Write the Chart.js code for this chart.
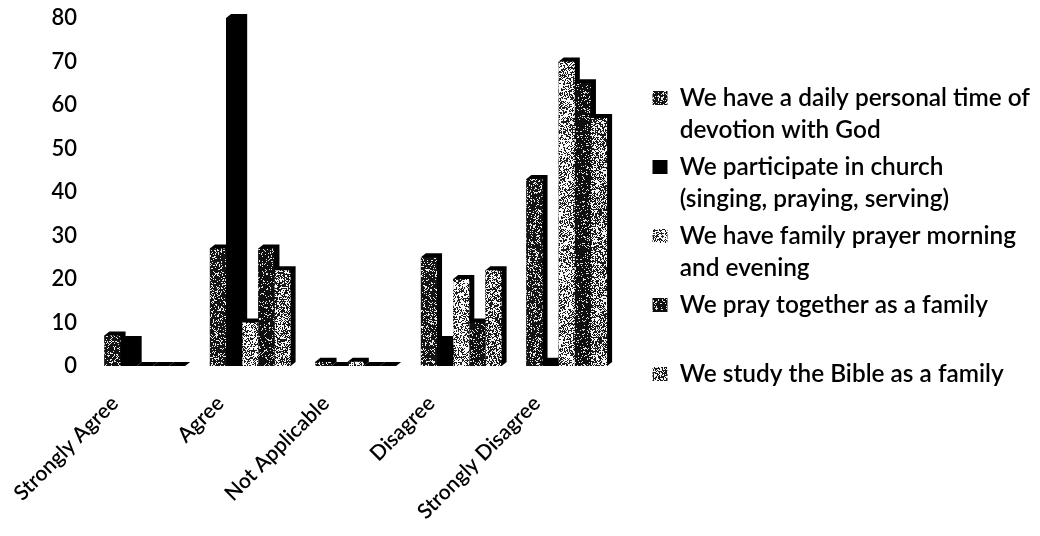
<!DOCTYPE html>
<html>
<head>
<meta charset="utf-8">
<script src="https://cdn.jsdelivr.net/npm/chart.js@4.4.1/dist/chart.umd.min.js"></script>
<style>
  html, body { margin: 0; padding: 0; background: #fff; }
  #wrap { width: 1040px; height: 536px; }
</style>
</head>
<body>
<div id="wrap"><canvas id="chart" width="1040" height="536"></canvas></div>
<script>
// Survey answers, percent of respondents
const categories = ['Strongly Agree', 'Agree', 'Not Applicable', 'Disagree', 'Strongly Disagree'];
const devotionDaily = [7, 27, 1, 25, 43];
const churchParticipation = [6, 80, 0, 6, 1];
const familyPrayer = [0, 10, 1, 20, 70];
const prayTogether = [0, 27, 0, 10, 65];
const bibleStudy = [0, 22, 0, 22, 57];

// Legend text, wrapped the way it is shown
const seriesNames = [
  ['We have a daily personal time of', 'devotion with God'],
  ['We participate in church', '(singing, praying, serving)'],
  ['We have family prayer morning', 'and evening'],
  ['We pray together as a family', ''],
  ['We study the Bible as a family']
];

const yMin = 0, yMax = 80, yStep = 10;

const FONT = 'Lato, "Open Sans", sans-serif';
const WEIGHT = 600;

// Deterministic hash for the printed-halftone texture
function hash(x, y, s) {
  let h = Math.imul(x, 374761393) ^ Math.imul(y, 668265263) ^ Math.imul(s, 1442695041);
  h = Math.imul(h ^ (h >>> 13), 1274126177);
  h ^= h >>> 16;
  return (h >>> 0) / 4294967296;
}

function speckle(base, dot, density, seed) {
  const size = 128;
  const cv = document.createElement('canvas');
  cv.width = cv.height = size;
  const g = cv.getContext('2d');
  const img = g.createImageData(size, size);
  for (let y = 0; y < size; y++) {
    for (let x = 0; x < size; x++) {
      const c = hash(x, y, seed) < density ? dot : base;
      const i = (y * size + x) * 4;
      img.data[i] = c; img.data[i + 1] = c; img.data[i + 2] = c; img.data[i + 3] = 255;
    }
  }
  g.putImageData(img, 0, 0);
  return g.createPattern(cv, 'repeat');
}

const fills = [
  speckle(20, 235, 0.22, 11),   // dark halftone
  '#000000',                    // solid black
  speckle(250, 30, 0.42, 23),   // light halftone
  speckle(15, 225, 0.14, 37),   // darker halftone
  speckle(245, 25, 0.52, 41)    // mid halftone
];

const seriesValues = [devotionDaily, churchParticipation, familyPrayer, prayTogether, bibleStudy];

// Side and top faces of every column, drawn behind the front faces
const depthFaces = {
  id: 'depthFaces',
  beforeDatasetsDraw(chart, args, opts) {
    const ctx = chart.ctx;
    ctx.save();
    ctx.fillStyle = opts.color;
    chart.data.datasets.forEach((ds, di) => {
      const meta = chart.getDatasetMeta(di);
      meta.data.forEach(bar => {
        const p = bar.getProps(['x', 'y', 'base', 'width'], true);
        const l = p.x - p.width / 2, r = p.x + p.width / 2;
        ctx.beginPath();
        ctx.moveTo(l, p.y);
        ctx.lineTo(l + opts.dx, p.y - opts.dy);
        ctx.lineTo(r + opts.dx, p.y - opts.dy);
        ctx.lineTo(r + opts.dx, p.base - opts.dy);
        ctx.lineTo(r, p.base);
        ctx.lineTo(l, p.base);
        ctx.closePath();
        ctx.fill();
      });
    });
    ctx.restore();
  }
};

new Chart(document.getElementById('chart'), {
  type: 'bar',
  data: {
    labels: categories,
    datasets: seriesValues.map((vals, i) => ({
      label: seriesNames[i].join(' ').trim(),
      data: vals,
      backgroundColor: fills[i],
      borderWidth: 0,
      categoryPercentage: 0.765,
      barPercentage: 1.0
    }))
  },
  options: {
    responsive: false,
    devicePixelRatio: 1,
    animation: false,
    layout: { padding: { top: 18, left: 0, right: 0, bottom: 0 } },
    scales: {
      x: {
        grid: { display: false, drawTicks: false },
        border: { display: false },
        ticks: {
          color: '#000',
          font: { family: FONT, size: 21, weight: WEIGHT },
          minRotation: 45,
          maxRotation: 45,
          autoSkip: false,
          labelOffset: -30,
          padding: 25
        },
        afterFit(scale) { scale.height = 170; }
      },
      y: {
        min: yMin,
        max: yMax,
        grid: { display: false, drawTicks: false },
        border: { display: false },
        ticks: {
          stepSize: yStep,
          color: '#000',
          font: { family: FONT, size: 22, weight: WEIGHT },
          padding: 15
        },
        afterFit(scale) {
          scale.width = 92;
          scale.paddingTop = 0;
          scale.paddingBottom = 0;
        }
      },
      gap: {
        type: 'linear',
        position: 'right',
        grid: { display: false, drawTicks: false },
        border: { display: false },
        ticks: { display: false },
        afterFit(scale) { scale.width = 28; }
      }
    },
    plugins: {
      tooltip: { enabled: false },
      depthFaces: { color: '#000', dx: 5, dy: 4 },
      legend: {
        position: 'right',
        align: 'start',
        maxWidth: 460,
        title: { display: true, text: '', padding: { top: 48.4, bottom: 0 } },
        labels: {
          color: '#000',
          boxWidth: 15,
          boxHeight: 14,
          padding: 5,
          font: { family: FONT, size: 24.4, weight: WEIGHT, lineHeight: 32 / 24.4 },
          generateLabels(chart) {
            const items = Chart.defaults.plugins.legend.labels.generateLabels(chart);
            items.forEach((it, i) => { it.text = seriesNames[i]; it.lineWidth = 0; });
            return items;
          }
        }
      }
    }
  },
  plugins: [depthFaces]
});
</script>
</body>
</html>
